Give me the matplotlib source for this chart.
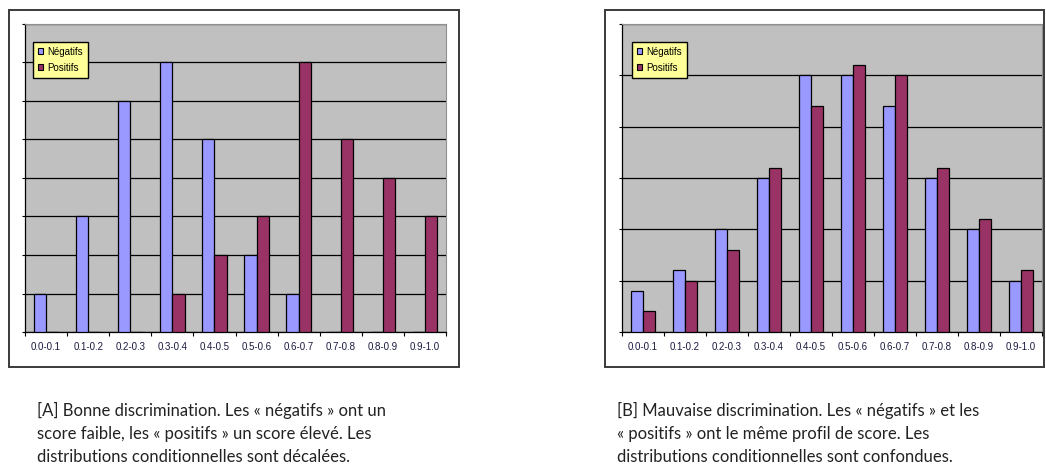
import matplotlib
matplotlib.use('Agg')
import matplotlib.pyplot as plt
from matplotlib.patches import Rectangle, Patch
import numpy as np

# classes de score
classes = ['0.0-0.1', '0.1-0.2', '0.2-0.3', '0.3-0.4', '0.4-0.5',
           '0.5-0.6', '0.6-0.7', '0.7-0.8', '0.8-0.9', '0.9-1.0']

# [A] bonne discrimination
neg_a = [1, 3, 6, 7, 5, 2, 1, 0, 0, 0]
pos_a = [0, 0, 0, 1, 2, 3, 7, 5, 4, 3]

# [B] mauvaise discrimination
neg_b = [4, 6, 10, 15, 25, 25, 22, 15, 10, 5]
pos_b = [2, 5, 8, 16, 22, 26, 25, 16, 11, 6]

series_names = ['Négatifs', 'Positifs']

caption_a = ("[A] Bonne discrimination. Les « négatifs » ont un\n"
             "score faible, les « positifs » un score élevé. Les\n"
             "distributions conditionnelles sont décalées.")
caption_b = ("[B] Mauvaise discrimination. Les « négatifs » et les\n"
             "« positifs » ont le même profil de score. Les\n"
             "distributions conditionnelles sont confondues.")

W, H = 1046, 465
C_NEG = '#9999ff'
C_POS = '#993366'


def px_box(x0, y0, x1, y1):
    # pixels (origine en haut a gauche) -> fraction de figure
    return [x0 / W, 1 - y1 / H, (x1 - x0) / W, (y1 - y0) / H]


def bar_chart(fig, rect, neg, pos, ymax, step, legend_xy):
    ax = fig.add_axes(rect)
    x = np.arange(len(classes))
    bw = 0.29
    ax.bar(x - bw / 2, neg, bw, color=C_NEG, edgecolor='black', linewidth=0.9, zorder=3)
    ax.bar(x + bw / 2, pos, bw, color=C_POS, edgecolor='black', linewidth=0.9, zorder=3)

    ax.set_facecolor('#c0c0c0')
    ax.set_xlim(-0.5, len(classes) - 0.5)
    ax.set_ylim(0, ymax)
    ax.set_yticks(np.arange(0, ymax + step, step))
    ax.set_yticklabels([])
    ax.grid(axis='y', color='black', linewidth=0.9, zorder=1)

    ax.set_xticks(x)
    ax.set_xticklabels(classes, fontsize=7, color='#1a1a40', family='Liberation Sans')
    ax.set_xticks(np.arange(-0.5, len(classes)), minor=True)
    ax.tick_params(axis='x', which='major', length=0, pad=7)
    ax.tick_params(axis='x', which='minor', length=3, width=0.8, direction='out')
    ax.tick_params(axis='y', length=2.5, width=0.8, direction='out')

    for s in ['top', 'right']:
        ax.spines[s].set_color('#909090')
        ax.spines[s].set_linewidth(0.8)
    for s in ['left', 'bottom']:
        ax.spines[s].set_color('black')
        ax.spines[s].set_linewidth(0.9)

    handles = [Patch(facecolor=C_NEG, edgecolor='black', linewidth=0.8),
               Patch(facecolor=C_POS, edgecolor='black', linewidth=0.8)]
    leg = ax.legend(handles, series_names, loc='upper left',
                    bbox_to_anchor=(legend_xy[0] / W, 1 - legend_xy[1] / H),
                    bbox_transform=fig.transFigure, borderaxespad=0,
                    prop={'family': 'Liberation Sans', 'size': 7},
                    handlelength=0.55, handleheight=0.55, handletextpad=0.4,
                    labelspacing=0.6, borderpad=0.5, fancybox=False,
                    framealpha=1, facecolor='#ffff99', edgecolor='black')
    leg.get_frame().set_linewidth(1.0)
    leg.set_zorder(5)
    return ax


fig = plt.figure(figsize=(W / 100, H / 100), dpi=100)
fig.patch.set_facecolor('white')

# cadres autour des graphiques
for x0, x1 in [(9, 459), (605, 1044)]:
    fig.patches.append(Rectangle((x0 / W, 1 - 367 / H), (x1 - x0) / W, 357 / H,
                                 transform=fig.transFigure, fill=False,
                                 edgecolor='#3a3a3a', linewidth=1.4))

bar_chart(fig, px_box(25, 24, 446, 332), neg_a, pos_a, 8, 1, (33, 42))
bar_chart(fig, px_box(622, 24, 1042, 332), neg_b, pos_b, 30, 5, (632, 42))

fig.text(37 / W, 1 - 402 / H, caption_a, ha='left', va='top', fontsize=12,
         family='Lato', color='#222222', linespacing=1.55)
fig.text(617 / W, 1 - 402 / H, caption_b, ha='left', va='top', fontsize=12,
         family='Lato', color='#222222', linespacing=1.55)

fig.savefig('out.png', dpi=100)
